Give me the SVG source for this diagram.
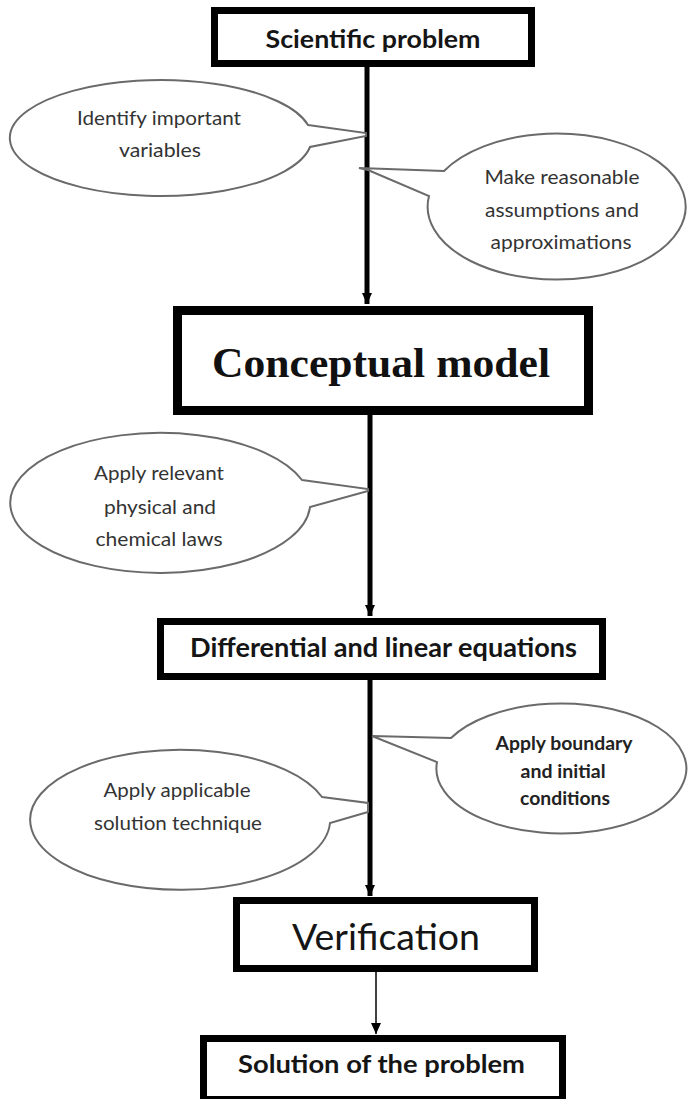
<svg xmlns="http://www.w3.org/2000/svg" width="688" height="1099" viewBox="0 0 688 1099">
<style>
.box{fill:#fff;stroke:#000;}
.bt{font-family:Lato,"Open Sans","Liberation Sans",sans-serif;font-weight:bold;fill:#151515;text-anchor:middle;}
.call{fill:#fff;stroke:#6a6a6a;stroke-width:2;stroke-linejoin:miter;}
.ct{font-family:Lato,"Open Sans","Liberation Sans",sans-serif;font-size:19px;fill:#333;text-anchor:middle;}
.ctb{font-family:Lato,"Open Sans","Liberation Sans",sans-serif;font-size:18px;font-weight:bold;fill:#222;text-anchor:middle;}
.edge{stroke:#000;fill:none;}
</style>
<defs>
<marker id="ah" markerUnits="userSpaceOnUse" markerWidth="12" markerHeight="12" viewBox="0 0 12 12" refX="11" refY="6" orient="auto">
<path d="M0,1 L11,6 L0,11 Z" fill="#000"/>
</marker>
</defs>

<g id="connectors">
<line class="edge" x1="367" y1="67" x2="367" y2="304" stroke-width="5" marker-end="url(#ah)"/>
<line class="edge" x1="370" y1="415" x2="370" y2="616" stroke-width="5" marker-end="url(#ah)"/>
<line class="edge" x1="370" y1="680" x2="370" y2="896" stroke-width="5" marker-end="url(#ah)"/>
<line class="edge" x1="376" y1="972" x2="376" y2="1034" stroke-width="1.5" marker-end="url(#ah)"/>
</g>

<g id="node-scientific-problem">
<rect class="box" x="214.5" y="10.5" width="317" height="53" stroke-width="7"/>
<text class="bt" x="373" y="48" font-size="25" textLength="215" lengthAdjust="spacingAndGlyphs">Scientific problem</text>
</g>

<g id="callout-identify">
<path class="call" d="M308,125 L366,133 L366,136 L310,147 A151 58 0 1 1 308,125 Z"/>
<text class="ct" x="159" y="125" textLength="164" lengthAdjust="spacingAndGlyphs">Identify important</text>
<text class="ct" x="160" y="157" textLength="82" lengthAdjust="spacingAndGlyphs">variables</text>
</g>

<g id="callout-assumptions">
<path class="call" d="M444,171 L359,168 L368,170 L429,196 A129 73 0 1 0 444,171 Z"/>
<text class="ct" x="562" y="184" textLength="155" lengthAdjust="spacingAndGlyphs">Make reasonable</text>
<text class="ct" x="562" y="217" textLength="154" lengthAdjust="spacingAndGlyphs">assumptions and</text>
<text class="ct" x="561" y="249" textLength="141" lengthAdjust="spacingAndGlyphs">approximations</text>
</g>

<g id="node-conceptual-model">
<rect class="box" x="177.5" y="310.5" width="411" height="100" stroke-width="9"/>
<text x="381" y="377" font-family="'Liberation Serif','Times New Roman',serif" font-weight="bold" font-size="42" fill="#111" text-anchor="middle" textLength="338" lengthAdjust="spacingAndGlyphs">Conceptual model</text>
</g>

<g id="callout-laws">
<path class="call" d="M302,480 L368,489 L368,491 L310,507 A150 70 0 1 1 302,480 Z"/>
<text class="ct" x="159" y="480" textLength="130" lengthAdjust="spacingAndGlyphs">Apply relevant</text>
<text class="ct" x="160" y="514" textLength="112" lengthAdjust="spacingAndGlyphs">physical and</text>
<text class="ct" x="159" y="546" textLength="127" lengthAdjust="spacingAndGlyphs">chemical laws</text>
</g>

<g id="node-equations">
<rect class="box" x="160.5" y="621.5" width="442" height="55" stroke-width="7"/>
<text class="bt" x="383.5" y="657" font-size="26" textLength="387" lengthAdjust="spacingAndGlyphs">Differential and linear equations</text>
</g>

<g id="callout-boundary">
<path class="call" d="M451,738 L372,736 L437,762 A125 65 0 1 0 451,738 Z"/>
<text class="ctb" x="564" y="750" textLength="137" lengthAdjust="spacingAndGlyphs">Apply boundary</text>
<text class="ctb" x="563" y="778" textLength="85" lengthAdjust="spacingAndGlyphs">and initial</text>
<text class="ctb" x="565" y="805" textLength="90" lengthAdjust="spacingAndGlyphs">conditions</text>
</g>

<g id="callout-technique">
<path class="call" d="M322,797 L368,803 L368,812 L330,823 A150 70 0 1 1 322,797 Z"/>
<text class="ct" x="177" y="797" textLength="147" lengthAdjust="spacingAndGlyphs">Apply applicable</text>
<text class="ct" x="178" y="830" textLength="168" lengthAdjust="spacingAndGlyphs">solution technique</text>
</g>

<g id="node-verification">
<rect class="box" x="236.5" y="900.5" width="298" height="68" stroke-width="7"/>
<text x="386" y="950" font-family="Lato,'Open Sans','Liberation Sans',sans-serif" font-size="37" fill="#151515" text-anchor="middle" textLength="188" lengthAdjust="spacingAndGlyphs">Verification</text>
</g>

<g id="node-solution">
<rect class="box" x="203.5" y="1038.5" width="359" height="61" stroke-width="7"/>
<text class="bt" x="381.5" y="1073" font-size="24" textLength="287" lengthAdjust="spacingAndGlyphs">Solution of the problem</text>
</g>
</svg>
